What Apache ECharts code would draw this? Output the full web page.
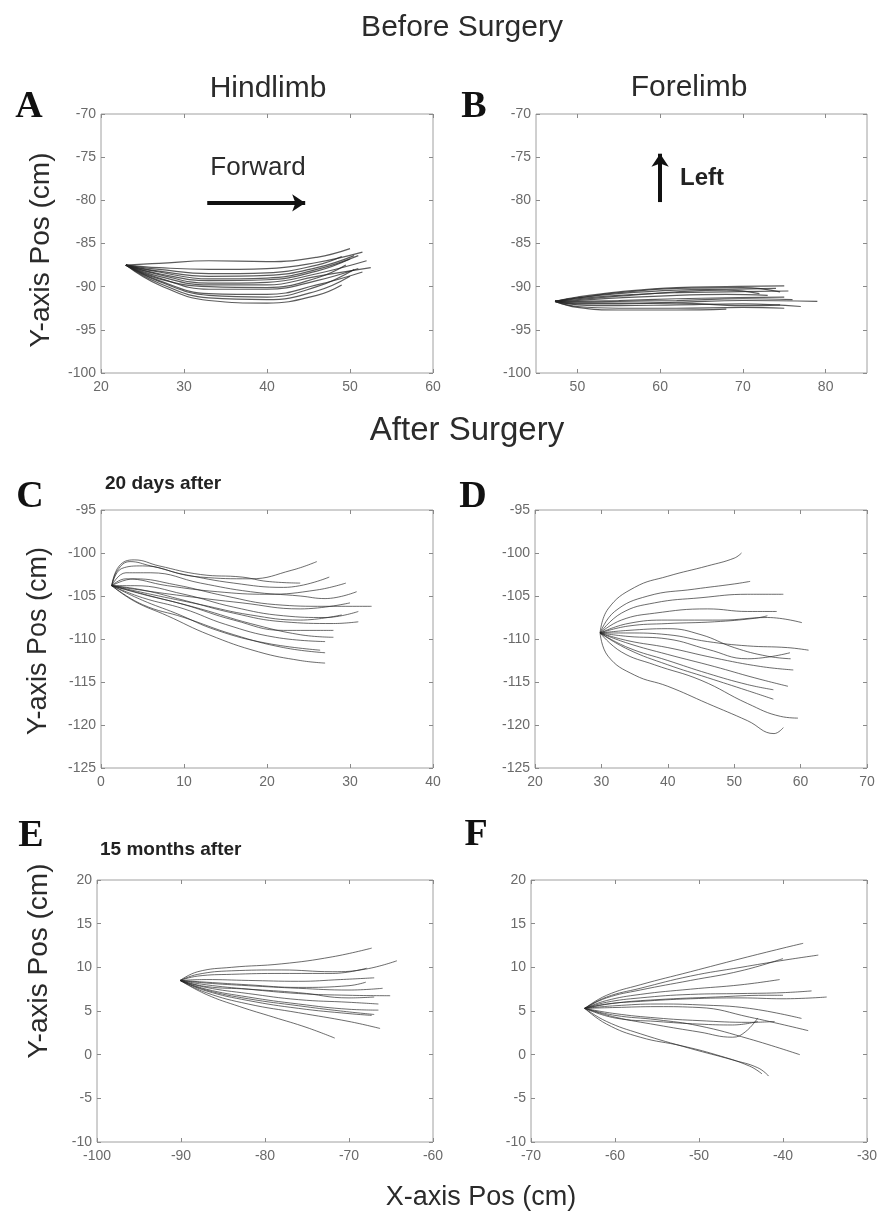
<!DOCTYPE html>
<html>
<head>
<meta charset="utf-8">
<script src="https://cdn.jsdelivr.net/npm/echarts@6/dist/echarts.min.js"></script>
<style>
html,body{margin:0;padding:0;background:#fff;}
#chart{width:882px;height:1214px;}
</style>
</head>
<body>
<div id="chart"></div>
<script>
// ---------- DATA (trajectories, cm) ----------
const hindBefore = [
  [[23,-87.5],[27,-87.3],[33,-87.0],[40,-87.1],[46,-86.6],[50,-85.6]],
  [[23,-87.5],[27,-87.8],[33,-88.0],[40,-87.9],[46,-87.2],[51.5,-86.0]],
  [[23,-87.5],[27,-88.2],[33,-88.8],[40,-88.7],[46,-87.8],[50.5,-86.4]],
  [[23,-87.5],[27,-88.5],[33,-89.3],[40,-89.2],[46,-88.2],[50,-86.8]],
  [[23,-87.5],[27,-88.8],[33,-89.8],[40,-89.8],[46,-88.8],[52.5,-87.8]],
  [[23,-87.5],[27,-89.0],[33,-90.3],[40,-90.3],[46,-89.3],[51,-87.9]],
  [[23,-87.5],[27,-89.3],[33,-90.8],[40,-90.9],[46,-89.8],[51.5,-88.3]],
  [[23,-87.5],[27,-89.6],[33,-91.3],[40,-91.5],[46,-90.5],[50,-88.8]],
  [[23,-87.5],[27,-89.8],[33,-91.6],[40,-91.9],[46,-91.0],[49,-89.8]],
  [[23,-87.5],[27,-88.0],[33,-88.5],[40,-88.4],[46,-87.5],[49,-86.5]],
  [[23,-87.5],[27,-89.1],[33,-90.0],[40,-90.1],[46,-89.0],[49.5,-87.5]],
  [[23,-87.5],[27,-88.6],[33,-89.6],[40,-89.5],[46,-88.5],[52,-87.0]],
  [[23,-87.5],[27,-89.4],[33,-91.0],[40,-91.2],[46,-90.0],[50.5,-88.0]],
  [[23,-87.5],[27,-88.3],[33,-89.1],[40,-89.0],[46,-88.0],[51,-86.4]]
];
const foreBefore = [
  [[47.3,-91.7],[50,-91.2],[55,-90.6],[62,-90.1],[68,-90.0],[75,-89.9]],
  [[47.3,-91.7],[50,-91.3],[55,-90.8],[62,-90.4],[68,-90.3],[74,-90.2]],
  [[47.3,-91.7],[50,-91.4],[55,-91.0],[62,-90.7],[68,-90.6],[75.5,-90.5]],
  [[47.3,-91.7],[50,-91.6],[55,-91.3],[62,-91.0],[68,-90.9],[73,-91.0]],
  [[47.3,-91.7],[50,-91.7],[55,-91.6],[62,-91.4],[68,-91.3],[75,-91.2]],
  [[47.3,-91.7],[50,-91.9],[55,-91.9],[62,-91.8],[70,-91.6],[79,-91.7]],
  [[47.3,-91.7],[50,-92.1],[55,-92.2],[62,-92.1],[70,-92.0],[77,-92.3]],
  [[47.3,-91.7],[50,-92.3],[55,-92.5],[62,-92.5],[70,-92.4],[75,-92.5]],
  [[47.3,-91.7],[50,-92.4],[55,-92.7],[62,-92.7],[68,-92.6]],
  [[47.3,-91.7],[50,-91.5],[55,-91.1],[62,-90.6],[68,-90.4],[72,-90.8]],
  [[47.3,-91.7],[50,-91.8],[55,-91.7],[62,-91.6],[70,-91.4],[76,-91.5]],
  [[47.3,-91.7],[50,-92.0],[55,-92.0],[62,-91.9],[70,-92.2],[74.5,-92.1]],
  [[47.3,-91.7],[50,-91.3],[55,-90.7],[62,-90.2],[70,-90.1],[74.5,-90.6]]
];
const hind20d = [
  [[1.3,-103.8],[2,-102],[3.5,-101],[6,-101.5],[12,-102.8],[18,-103],[23,-102],[26,-101]],
  [[1.3,-103.8],[2.5,-101.8],[5,-101.5],[10,-102.5],[16,-103.5],[22,-104],[27.5,-102.8]],
  [[1.3,-103.8],[3,-102.3],[6,-102.3],[12,-103.5],[18,-104.5],[24,-105],[27,-105.3],[30.8,-104.5]],
  [[1.3,-103.8],[4,-103],[9,-103.7],[15,-105],[21,-106],[27,-106.2],[32.6,-106.2]],
  [[1.3,-103.8],[4,-103.8],[10,-104.8],[16,-106.3],[22,-107.3],[27,-107.5],[31,-106.8]],
  [[1.3,-103.8],[5,-104.3],[10,-105.5],[16,-107],[22,-108],[28,-108.2],[31,-108]],
  [[1.3,-103.8],[5,-104.8],[10,-106],[16,-107.8],[22,-109],[28,-109]],
  [[1.3,-103.8],[5,-105.2],[10,-106.5],[15,-108.3],[21,-109.8],[27,-110.3]],
  [[1.3,-103.8],[5,-105.5],[9,-107],[14,-109],[20,-110.5],[26.4,-111.3]],
  [[1.3,-103.8],[4,-105.6],[8,-107.3],[13,-109.5],[19,-111.5],[24,-112.5],[27,-112.8]],
  [[1.3,-103.8],[3,-103],[8,-103.8],[14,-104.5],[20,-104.8],[26,-104.3],[29.5,-103.5]],
  [[1.3,-103.8],[4,-104.2],[10,-105],[17,-105.8],[24,-106.5],[30,-105.8]],
  [[1.3,-103.8],[6,-105],[12,-106.5],[18,-108.2],[24,-109.5],[28,-109.8]],
  [[1.3,-103.8],[6,-104.8],[12,-106],[18,-107.2],[24,-107.8],[29,-107.2]],
  [[1.3,-103.8],[2.2,-101.5],[4,-100.8],[7,-101.5],[12,-102.5],[17,-102.8],[20,-103.3],[24,-103.5]],
  [[1.3,-103.8],[5,-106],[10,-107.5],[16,-109.5],[22,-111],[27,-111.6]]
];
const fore20d = [
  [[29.8,-109.3],[31,-106.5],[35,-104],[40,-102.7],[46,-101.5],[50,-100.6],[51.1,-100]],
  [[29.8,-109.3],[32,-106.8],[37,-105],[44,-104.2],[50,-103.6],[52.4,-103.3]],
  [[29.8,-109.3],[33,-107],[38,-105.8],[45,-105.2],[52,-104.8],[57.4,-104.8]],
  [[29.8,-109.3],[33,-107.8],[38,-107],[46,-106.5],[52,-106.8],[56.4,-106.8]],
  [[29.8,-109.3],[34,-108.2],[40,-107.8],[48,-107.8],[55,-107.5],[60.2,-108.1]],
  [[29.8,-109.3],[34,-108.5],[40,-108.2],[47,-108],[53,-107.6],[55,-107.3]],
  [[29.8,-109.3],[34,-109.3],[40,-109.5],[46,-110.3],[52,-110.8],[58,-111],[61.2,-111.3]],
  [[29.8,-109.3],[34,-109.7],[40,-110],[46,-111.2],[52,-112.3],[58.4,-111.6]],
  [[29.8,-109.3],[34,-110.2],[40,-111],[47,-112.2],[54,-113.2],[58.9,-113.6]],
  [[29.8,-109.3],[34,-110.5],[40,-111.8],[47,-113.2],[53,-114.5],[58.1,-115.5]],
  [[29.8,-109.3],[34,-111],[40,-112.5],[46,-114],[52,-115.3],[55.9,-115.9]],
  [[29.8,-109.3],[34,-111.2],[40,-113],[46,-114.5],[52,-116],[55.9,-117]],
  [[29.8,-109.3],[33,-111.5],[38,-113],[45,-114.8],[52,-117.5],[57,-119],[59.6,-119.2]],
  [[29.8,-109.3],[31,-112],[35,-114.2],[40,-115.5],[46,-117.5],[52,-119.5],[56,-121],[57.4,-120.3]],
  [[29.8,-109.3],[34,-109],[40,-108.8],[45,-109.5],[50,-111],[55,-112],[58.5,-112.3]]
];
const hind15m = [
  [[-90.1,8.5],[-88,9.5],[-84,10],[-78,10.4],[-72,11.2],[-67.3,12.2]],
  [[-90.1,8.5],[-88,9.2],[-84,9.6],[-78,9.7],[-72,9.5],[-68,9.8],[-64.3,10.75]],
  [[-90.1,8.5],[-88,9.0],[-84,9.2],[-78,9.3],[-72,9.3],[-67.9,9.9]],
  [[-90.1,8.5],[-87,8.6],[-82,8.5],[-76,8.4],[-71,8.6],[-67,8.8]],
  [[-90.1,8.5],[-87,8.2],[-82,7.9],[-76,7.6],[-70,7.4],[-66,7.6]],
  [[-90.1,8.5],[-87,8.0],[-82,7.5],[-76,7.0],[-70,6.8],[-65.1,6.75]],
  [[-90.1,8.5],[-87,7.7],[-82,7.0],[-76,6.3],[-70,6.0],[-66.5,5.8]],
  [[-90.1,8.5],[-87,7.5],[-82,6.6],[-76,5.8],[-70,5.2],[-66.5,5.1]],
  [[-90.1,8.5],[-87,7.3],[-82,6.2],[-76,5.3],[-70,4.7],[-67.3,4.5]],
  [[-90.1,8.5],[-87,7.1],[-82,5.8],[-76,4.8],[-70,3.8],[-66.3,3.0]],
  [[-90.1,8.5],[-87,6.9],[-83,5.5],[-79,4.3],[-75,3.1],[-71.7,1.9]],
  [[-90.1,8.5],[-87,7.8],[-82,7.5],[-76,7.1],[-70,6.5],[-67,6.6]],
  [[-90.1,8.5],[-87,8.3],[-82,8.0],[-76,7.7],[-70,7.9],[-68,8.3]],
  [[-90.1,8.5],[-87,7.4],[-82,6.4],[-76,5.6],[-71,5.0],[-67,4.6]]
];
const fore15m = [
  [[-63.6,5.3],[-61,6.8],[-57,8.0],[-51,9.5],[-45,11.0],[-40,12.2],[-37.6,12.75]],
  [[-63.6,5.3],[-61,6.6],[-57,7.6],[-51,9.0],[-45,10.0],[-40,10.8],[-35.8,11.4]],
  [[-63.6,5.3],[-61,6.5],[-57,7.4],[-51,8.5],[-45,9.6],[-40,11.0]],
  [[-63.6,5.3],[-61,6.2],[-57,6.9],[-51,7.5],[-45,8.0],[-40.4,8.6]],
  [[-63.6,5.3],[-61,6.0],[-57,6.5],[-51,6.9],[-45,7.0],[-40,7.1],[-36.6,7.3]],
  [[-63.6,5.3],[-61,5.8],[-57,6.1],[-51,6.4],[-45,6.5],[-40,6.4],[-34.8,6.6]],
  [[-63.6,5.3],[-60,5.6],[-55,5.8],[-50,5.7],[-44,5.3],[-37.8,4.15]],
  [[-63.6,5.3],[-60,5.4],[-55,5.5],[-50,5.4],[-44,4.3],[-37,2.75]],
  [[-63.6,5.3],[-60,4.5],[-55,4.0],[-50,3.3],[-44,1.8],[-38,0.0]],
  [[-63.6,5.3],[-60,4.2],[-55,3.8],[-50,3.5],[-46,3.4],[-43,3.8]],
  [[-63.6,5.3],[-60,4.3],[-55,3.4],[-50,2.6],[-46,2.0],[-44.5,2.6],[-43,4.2]],
  [[-63.6,5.3],[-61,3.8],[-57,2.4],[-51,0.7],[-46,-0.6],[-43,-1.5],[-41.7,-2.45]],
  [[-63.6,5.3],[-61,3.5],[-57,2.0],[-52,1.0],[-48,0.0],[-44,-1.3],[-42.5,-2.2]],
  [[-63.6,5.3],[-60,5.9],[-55,6.3],[-48,6.6],[-42,6.8],[-40,6.8]],
  [[-63.6,5.3],[-60,4.7],[-55,4.2],[-50,3.9],[-44,3.7],[-41,3.8]]
];
// axis ranges [min, max, interval] and tick values
const xRanges = [[20,60,10],[45,85,5],[0,40,10],[20,70,10],[-100,-60,10],[-70,-30,10]];
const yRanges = [[-100,-70,5],[-100,-70,5],[-125,-95,5],[-125,-95,5],[-10,20,5],[-10,20,5]];
const xTicksB = [50,60,70,80];
const panels = [hindBefore, foreBefore, hind20d, fore20d, hind15m, fore15m];
// annotation arrows (data coordinates)
const forwardArrow = [[32.8,-80.3],[44.6,-80.3]];
const leftArrow = [[60,-80.2],[60,-74.6]];

// ---------- LAYOUT ----------
const grids = [
  {left:101, top:114, width:332, height:259},
  {left:536, top:114, width:331, height:259},
  {left:101, top:510, width:332, height:258},
  {left:535, top:510, width:332, height:258},
  {left:97,  top:880, width:336, height:262},
  {left:531, top:880, width:336, height:262}
];
const FONT = 'Liberation Sans, Arial, sans-serif';
const tickColor = '#8a8a8a';
const labelStyle = {color:'#6a6a6a', fontSize:14, fontFamily:FONT, showMinLabel:true, showMaxLabel:true};

const xAxes = [], yAxes = [], series = [];
grids.forEach((g, i) => {
  const [xmin,xmax,xint] = xRanges[i];
  const [ymin,ymax,yint] = yRanges[i];
  const common = () => ({
    axisLine:{show:false, onZero:false}, splitLine:{show:false},
    axisTick:{show:true, inside:true, length:4, lineStyle:{color:tickColor}}
  });
  const xb = Object.assign({type:'value', gridIndex:i, min:xmin, max:xmax, interval:xint, position:'bottom',
    axisLabel:Object.assign({margin:7}, labelStyle)}, common());
  const xt = Object.assign({type:'value', gridIndex:i, min:xmin, max:xmax, interval:xint, position:'top',
    axisLabel:{show:false}}, common());
  if (i === 1) {
    xb.axisLabel.customValues = xTicksB;
    xb.axisTick.customValues = xTicksB;
    xt.axisTick.customValues = xTicksB;
  }
  xAxes.push(xb, xt);
  yAxes.push(Object.assign({type:'value', gridIndex:i, min:ymin, max:ymax, interval:yint, position:'left',
    axisLabel:Object.assign({margin:5}, labelStyle)}, common()));
  yAxes.push(Object.assign({type:'value', gridIndex:i, min:ymin, max:ymax, interval:yint, position:'right',
    axisLabel:{show:false}}, common()));
  const before = i < 2;
  panels[i].forEach(traj => {
    series.push({
      type:'line', xAxisIndex:2*i, yAxisIndex:2*i, data:traj, smooth:0.45,
      showSymbol:false, silent:true, animation:false,
      lineStyle:{color:'#262626', width: before ? 1.2 : 1, opacity: before ? 0.75 : 0.68}
    });
  });
});
function arrowMark(pts, size){
  return {
    silent:true, animation:false, symbol:['none','arrow'], symbolSize:size,
    label:{show:false},
    lineStyle:{color:'#111', width:4, type:'solid', opacity:1},
    data:[[{coord:pts[0]},{coord:pts[1]}]]
  };
}
series.push({type:'line', xAxisIndex:0, yAxisIndex:0, data:[], markLine:arrowMark(forwardArrow,[13,13])});
series.push({type:'line', xAxisIndex:2, yAxisIndex:2, data:[], markLine:arrowMark(leftArrow,[13,13])});

function txt(text, x, y, size, opts){
  return Object.assign({
    type:'text', x:x, y:y, silent:true,
    style:Object.assign({text:text, fill:'#2b2b2b', fontSize:size, fontFamily:FONT,
      textAlign:'center', textVerticalAlign:'middle'}, opts && opts.style)
  }, opts && opts.el);
}
const serif = 'Liberation Serif, Times New Roman, serif';
const letter = {style:{fontFamily:serif, fontWeight:'bold', fill:'#111'}};
const graphics = [
  txt('Before Surgery', 462, 28, 30),
  txt('Hindlimb', 268, 89, 30),
  txt('Forelimb', 689, 88, 30),
  txt('Forward', 258, 168, 26),
  txt('Left', 680, 178, 24, {style:{textAlign:'left', fontWeight:'bold', fill:'#222'}}),
  txt('After Surgery', 467, 431, 33),
  txt('X-axis Pos (cm)', 481, 1198, 27),
  txt('Y-axis Pos (cm)', 41, 250, 28, {el:{rotation:Math.PI/2}}),
  txt('Y-axis Pos (cm)', 39, 641, 27, {el:{rotation:Math.PI/2}}),
  txt('Y-axis Pos (cm)', 39, 961, 28, {el:{rotation:Math.PI/2}}),
  txt('20 days after', 105, 484, 19, {style:{textAlign:'left', fontWeight:'bold', fill:'#222'}}),
  txt('15 months after', 100, 850, 19, {style:{textAlign:'left', fontWeight:'bold', fill:'#222'}}),
  txt('A', 29, 107, 38, letter),
  txt('B', 474, 107, 38, letter),
  txt('C', 30, 497, 38, letter),
  txt('D', 473, 497, 38, letter),
  txt('E', 31, 836, 38, letter),
  txt('F', 476, 835, 38, letter)
];

const chart = echarts.init(document.getElementById('chart'), null, {renderer:'canvas'});
chart.setOption({
  backgroundColor:'#ffffff',
  animation:false,
  grid: grids.map(g => Object.assign({show:true, borderColor:'#a0a0a0', borderWidth:1, backgroundColor:'transparent'}, g)),
  xAxis: xAxes,
  yAxis: yAxes,
  series: series,
  graphic: graphics
});
</script>
</body>
</html>
